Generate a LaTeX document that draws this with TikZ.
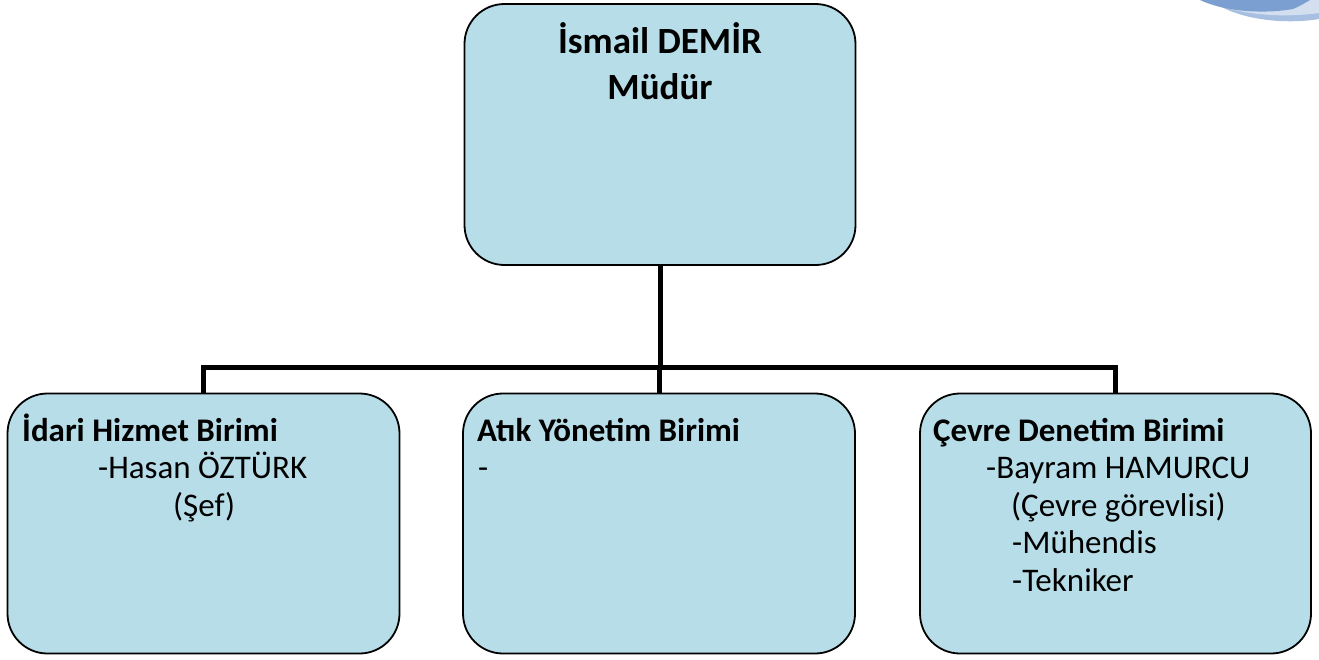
\documentclass[tikz,border=0pt]{standalone}
\usepackage{fontspec}
\setmainfont{Carlito}
\definecolor{boxfill}{HTML}{B7DEE8}
\definecolor{swdark}{HTML}{7A9FD0}
\definecolor{swmid}{HTML}{A7BFE1}
\definecolor{swlight}{HTML}{D3DEEF}
\tikzset{
  orgbox/.style={draw=black, line width=1.8pt, fill=boxfill, rounded corners=40pt, rectangle, inner sep=0pt},
  conn/.style={draw=black, line width=5pt},
  lbl/.style={anchor=base west, inner sep=0pt, font=\fontsize{33}{37}\selectfont},
  bold/.style={anchor=base west, inner sep=0pt, font=\fontsize{33}{37}\selectfont\bfseries},
  ttl/.style={anchor=base, inner sep=0pt, font=\fontsize{37}{46}\selectfont\bfseries}
}
\begin{document}
\begin{tikzpicture}[x=1pt,y=-1pt]
\useasboundingbox (0,0) rectangle (1319,659);
% decoration top right
\begin{scope}
\clip (0,0) rectangle (1319,659);
\fill[swmid] (1210,0) .. controls (1240,22) and (1290,24) .. (1319,19) -- (1319,0) -- cycle;
\fill[swlight] (1214,4) .. controls (1250,17) and (1290,17) .. (1319,13) -- (1319,0) -- (1290,0) -- cycle;
\fill[swdark] (1200,0) .. controls (1225,12) and (1265,14) .. (1293,9) .. controls (1300,6) and (1305,3) .. (1310,0) -- cycle;
\end{scope}
% boxes
\node[orgbox, minimum width=391pt, minimum height=261pt] (top) at (660,134.5) {};
\node[orgbox, minimum width=392pt, minimum height=260pt] (left) at (203.5,523.5) {};
\node[orgbox, minimum width=392pt, minimum height=260pt] (mid) at (659,523.5) {};
\node[orgbox, minimum width=391pt, minimum height=260pt] (right) at (1115.5,523.5) {};
% connectors
\coordinate (bus) at (660,367);
\draw[conn] (top.south) -- (top.south |- bus);
\draw[conn] (left.north) -- (left.north |- bus) -- (right.north |- bus) -- (right.north);
\draw[conn] (mid.north) -- (mid.north |- bus);
% texts
\node[ttl] (t1) at (660,53) {İsmail DEMİR};
\node[ttl] (t2) at (660,99) {Müdür};
\node[bold] (l1) at (22,441) {İdari Hizmet Birimi};
\node[lbl] (l2) at (98,478.5) {-Hasan ÖZTÜRK};
\node[lbl] (l3) at (173,516) {(Şef)};
\node[bold] (m1) at (477,441) {Atık Yönetim Birimi};
\node[lbl] (m2) at (478,478.5) {-};
\node[bold] (r1) at (933,441) {Çevre Denetim Birimi};
\node[lbl] (r2) at (986,478.5) {-Bayram HAMURCU};
\node[lbl] (r3) at (1011,516) {(Çevre görevlisi)};
\node[lbl] (r4) at (1012,553.5) {-Mühendis};
\node[lbl] (r5) at (1012,591) {-Tekniker};
\end{tikzpicture}
\end{document}
